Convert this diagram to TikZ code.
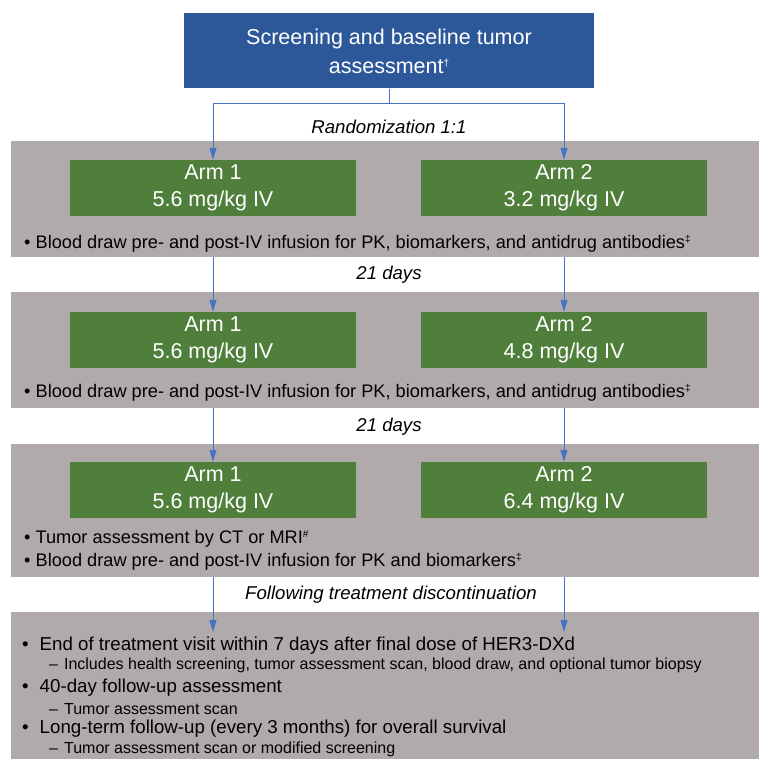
\documentclass[tikz,border=0pt]{standalone}
\usepackage{fontspec}
\setmainfont{Liberation Sans}
\usetikzlibrary{arrows.meta,positioning}
\definecolor{headblue}{RGB}{44,88,154}
\definecolor{armgreen}{RGB}{80,127,59}
\definecolor{panelgray}{RGB}{176,171,170}
\definecolor{linkblue}{RGB}{70,114,196}
\newcommand{\fnmark}[1]{\raisebox{0.6ex}{\fontsize{10}{10}\selectfont #1}}

\begin{document}
\begin{tikzpicture}[x=1pt,y=-1pt,
    panel/.style={fill=panelgray, anchor=north west, minimum width=748pt, inner sep=0pt},
    armbox/.style={fill=armgreen, text=white, minimum width=286pt, minimum height=56pt, inner sep=0pt, align=center, font=\fontsize{21.5}{27}\selectfont},
    note/.style={anchor=west, inner sep=0pt, font=\fontsize{18.2}{20}\selectfont},
    fulnote/.style={anchor=west, inner sep=0pt, font=\fontsize{18.7}{20}\selectfont},
    subnote/.style={anchor=west, inner sep=0pt, font=\fontsize{16}{18}\selectfont},
    phase/.style={inner sep=0pt, font=\fontsize{18.6}{20}\selectfont\itshape},
    link/.style={draw=linkblue, line width=0.9pt, -{Triangle[length=12pt,width=7pt]}}]
  \useasboundingbox (0,0) rectangle (759,759);

  % gray panels
  \node[panel, minimum height=116pt] (p1) at (11,141) {};
  \node[panel, minimum height=116pt] (p2) at (11,292) {};
  \node[panel, minimum height=133pt] (p3) at (11,444) {};
  \node[panel, minimum height=147pt] (p4) at (11,612) {};

  % header
  \node[fill=headblue, text=white, minimum width=410pt, minimum height=75pt, inner sep=0pt,
        align=center, font=\fontsize{21.5}{29}\selectfont] (screen) at (389,51)
        {Screening and baseline tumor\\assessment\fnmark{†}};

  % arms
  \node[armbox] (arm1a) at (213,188) {Arm 1\\5.6 mg/kg IV};
  \node[armbox] (arm2a) at (564,188) {Arm 2\\3.2 mg/kg IV};
  \node[armbox] (arm1b) at (213,340) {Arm 1\\5.6 mg/kg IV};
  \node[armbox] (arm2b) at (564,340) {Arm 2\\4.8 mg/kg IV};
  \node[armbox] (arm1c) at (213,490) {Arm 1\\5.6 mg/kg IV};
  \node[armbox] (arm2c) at (564,490) {Arm 2\\6.4 mg/kg IV};

  % notes inside panels
  \node[note] (blood1) at (24,244) {\textbullet\ Blood draw pre- and post-IV infusion for PK, biomarkers, and antidrug antibodies\fnmark{‡}};
  \node[note] (blood2) at (24,393) {\textbullet\ Blood draw pre- and post-IV infusion for PK, biomarkers, and antidrug antibodies\fnmark{‡}};
  \node[note] (scan3) at (24,539) {\textbullet\ Tumor assessment by CT or MRI\fnmark{\#}};
  \node[note] (blood3) at (24,562) {\textbullet\ Blood draw pre- and post-IV infusion for PK and biomarkers\fnmark{‡}};

  \node[fulnote] (eot) at (22,646) {\textbullet\hspace{11pt}End of treatment visit within 7 days after final dose of HER3-DXd};
  \node[subnote] (eotsub) at (49,665) {--\hspace{6pt}Includes health screening, tumor assessment scan, blood draw, and optional tumor biopsy};
  \node[fulnote] (fu40) at (22,688) {\textbullet\hspace{11pt}40-day follow-up assessment};
  \node[subnote] (fu40sub) at (49,709) {--\hspace{6pt}Tumor assessment scan};
  \node[fulnote] (ltfu) at (22,729) {\textbullet\hspace{11pt}Long-term follow-up (every 3 months) for overall survival};
  \node[subnote] (ltfusub) at (49,749) {--\hspace{6pt}Tumor assessment scan or modified screening};

  % phase labels
  \node[phase] (rand) at (389,127) {Randomization 1:1};
  \node[phase] (cyc1) at (389,275) {21 days};
  \node[phase] (cyc2) at (389,427) {21 days};
  \node[phase] (disc) at (391,595) {Following treatment discontinuation};

  % connectors
  \coordinate (split) at (389,103);
  \coordinate (end1) at (213,632);
  \coordinate (end2) at (564,632);
  \draw[draw=linkblue, line width=0.9pt] (screen.south) -- (split);
  \draw[link] (split) -| (arm1a.north);
  \draw[link] (split) -| (arm2a.north);
  \draw[link] (p1.south -| arm1a) -- (arm1b.north);
  \draw[link] (p1.south -| arm2a) -- (arm2b.north);
  \draw[link] (p2.south -| arm1b) -- (arm1c.north);
  \draw[link] (p2.south -| arm2b) -- (arm2c.north);
  \draw[link] (p3.south -| arm1c) -- (end1);
  \draw[link] (p3.south -| arm2c) -- (end2);
\end{tikzpicture}
\end{document}
